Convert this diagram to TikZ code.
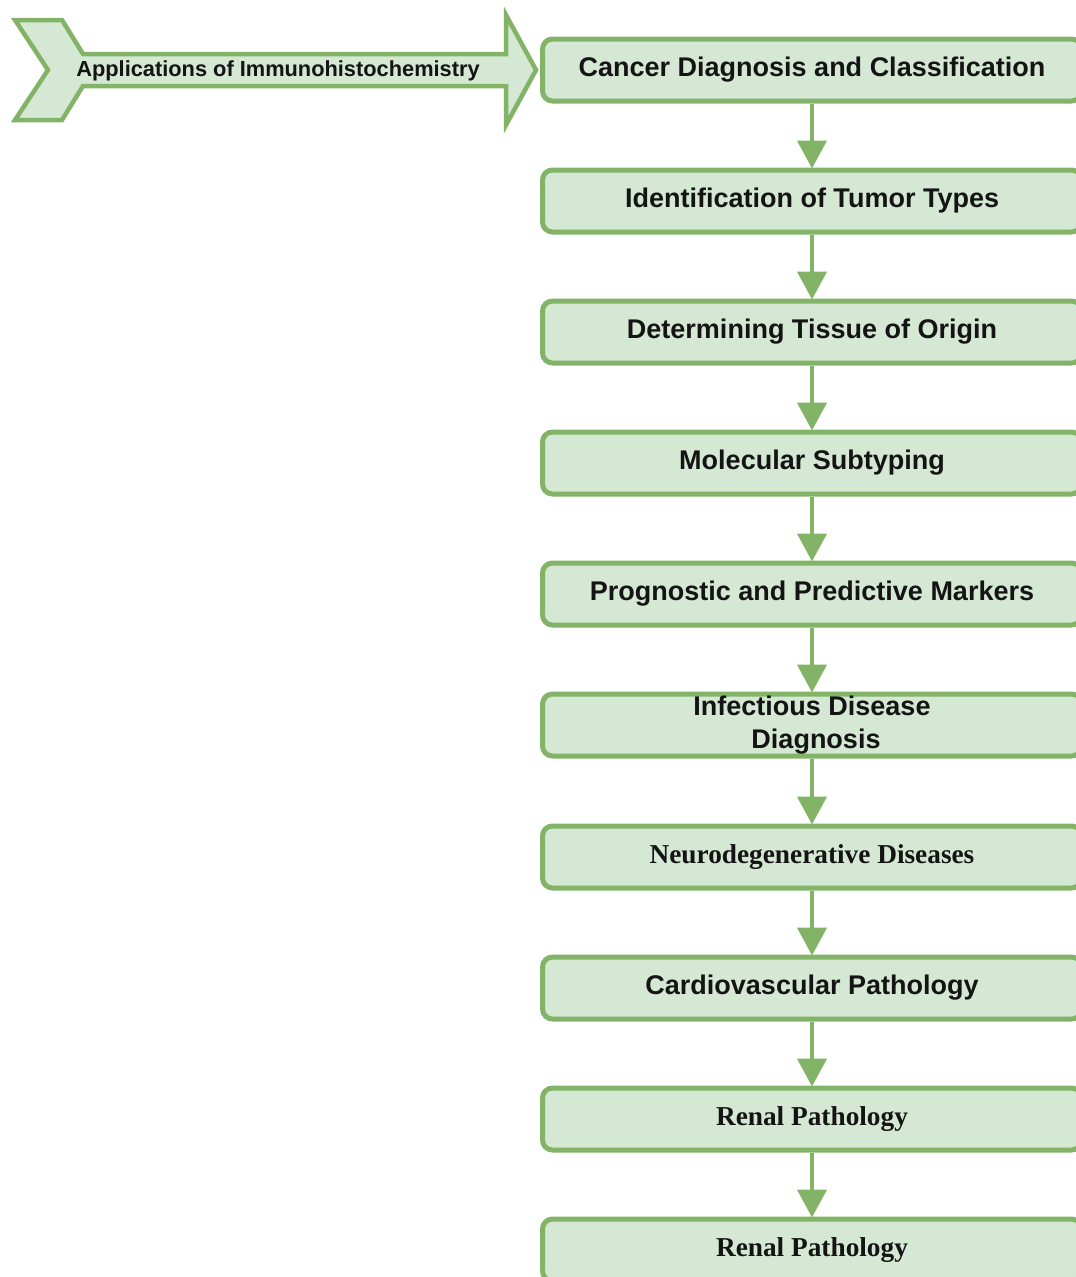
\documentclass[tikz,border=0pt]{standalone}
\usepackage{fontspec}
\setmainfont{Liberation Sans}
\newfontfamily\serifbold{Liberation Serif}
\usetikzlibrary{arrows.meta}
\definecolor{gline}{RGB}{130,179,102}
\definecolor{gfill}{RGB}{213,232,212}
\definecolor{txt}{RGB}{20,20,20}
\tikzset{
  flowbox/.style={draw=gline, fill=gfill, line width=5pt, rounded corners=10pt,
    minimum width=539pt, minimum height=62pt, inner sep=0pt, text=txt,
    font=\fontsize{27}{33}\selectfont\bfseries, align=center},
  serifbox/.style={flowbox, font=\serifbold\fontsize{27.3}{33}\selectfont\bfseries},
  flowarrow/.style={draw=gline, line width=4.5pt,
    -{Triangle[width=29pt,length=28pt]}, shorten >=-1pt}
}
\begin{document}
\begin{tikzpicture}[x=1pt,y=1pt]
\path[use as bounding box] (0,0) rectangle (1076,-1277);
\clip (0,0) rectangle (1076,-1277);
% big arrow
\draw[draw=gline, fill=gfill, line width=4.5pt, line join=miter]
  (15,-20) -- (62,-20) -- (83,-54) -- (506,-54) -- (506,-15) -- (536,-70)
  -- (506,-125) -- (506,-86) -- (83,-86) -- (62,-120) -- (15,-120) -- (48,-70) -- cycle;
\node[text=txt, font=\fontsize{21.8}{24}\selectfont\bfseries] (app) at (278,-71) {Applications of Immunohistochemistry};
% boxes
\node[flowbox] (b1) at (812,-70) {Cancer Diagnosis and Classification};
\node[flowbox] (b2) at (812,-201) {Identification of Tumor Types};
\node[flowbox] (b3) at (812,-332) {Determining Tissue of Origin};
\node[flowbox] (b4) at (812,-463) {Molecular Subtyping};
\node[flowbox] (b5) at (812,-594) {Prognostic and Predictive Markers};
\node[flowbox] (b6) at (812,-725) {Infectious Disease\\\hspace*{8pt}Diagnosis};
\node[serifbox] (b7) at (812,-857) {Neurodegenerative Diseases};
\node[flowbox] (b8) at (812,-988) {Cardiovascular Pathology};
\node[serifbox] (b9) at (812,-1119) {Renal Pathology};
\node[serifbox] (b10) at (812,-1250) {Renal Pathology};
% connectors
\foreach \a/\b in {b1/b2,b2/b3,b3/b4,b4/b5,b5/b6,b6/b7,b7/b8,b8/b9,b9/b10}
  \draw[flowarrow] (\a.south) -- (\b.north);
\end{tikzpicture}
\end{document}
